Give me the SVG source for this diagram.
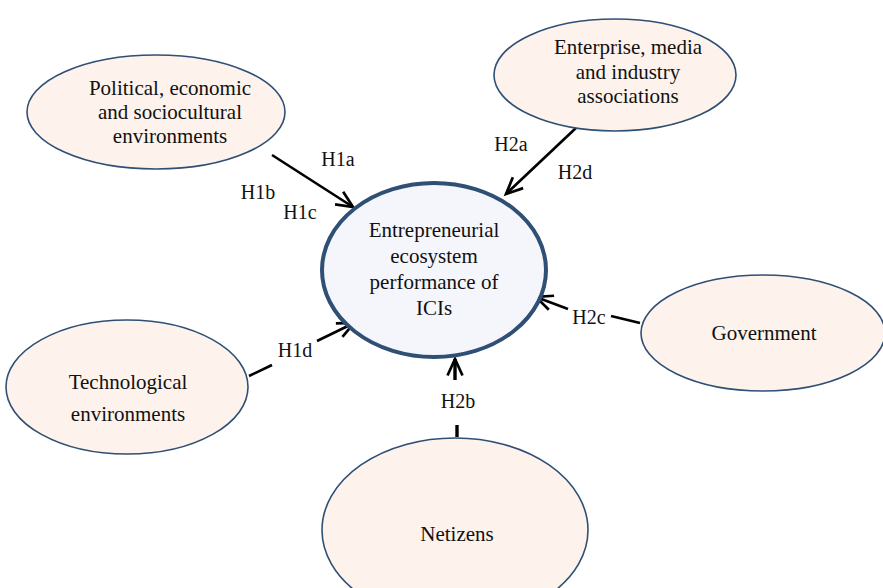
<svg xmlns="http://www.w3.org/2000/svg" width="883" height="588" viewBox="0 0 883 588">
<defs>
<style>
.n{fill:#fdf3ec;stroke:#2f4f74;stroke-width:1.6}
.c{fill:#f5f6fb;stroke:#2f4f74;stroke-width:4}
text{font-family:"Liberation Serif","Times New Roman",serif;font-size:21px;fill:#111;text-anchor:middle}
.l{font-size:20px}
.e{stroke:#000;stroke-width:2.6;fill:none}
</style>
<marker id="ah" viewBox="0 0 12 12" refX="11" refY="6" markerWidth="18" markerHeight="18" markerUnits="userSpaceOnUse" orient="auto" style="overflow:visible">
<path d="M0,1 L11,6 L0,11" fill="none" stroke="#000" stroke-width="1.8"/>
</marker>
</defs>
<rect width="883" height="588" fill="#fff"/>
<g id="connectors">
<line class="e" x1="272" y1="155" x2="353" y2="207" marker-end="url(#ah)"/>
<line class="e" x1="577" y1="127" x2="506" y2="194" marker-end="url(#ah)"/>
<line class="e" x1="640" y1="323" x2="611" y2="316"/>
<line class="e" x1="568" y1="309" x2="536" y2="297" marker-end="url(#ah)"/>
<line class="e" x1="249" y1="376" x2="272" y2="365"/>
<line class="e" x1="317" y1="341" x2="354" y2="323" marker-end="url(#ah)"/>
<line class="e" x1="457" y1="425" x2="457" y2="437" style="stroke-width:3.4"/>
<line class="e" x1="455" y1="380" x2="455" y2="359" marker-end="url(#ah)" style="stroke-width:3.4"/>
<text class="l" x="338" y="166">H1a</text>
<text class="l" x="258" y="199">H1b</text>
<text class="l" x="300" y="219">H1c</text>
<text class="l" x="511" y="151">H2a</text>
<text class="l" x="575" y="179">H2d</text>
<text class="l" x="589" y="324">H2c</text>
<text class="l" x="295" y="357">H1d</text>
<text class="l" x="458" y="408">H2b</text>
</g>
<g id="center">
<ellipse class="c" cx="434" cy="270" rx="112" ry="87"/>
<text x="434" y="237">Entrepreneurial</text>
<text x="434" y="263">ecosystem</text>
<text x="434" y="289">performance of</text>
<text x="434" y="315">ICIs</text>
</g>
<g id="political">
<ellipse class="n" cx="156" cy="112" rx="129" ry="57"/>
<text x="170" y="95">Political, economic</text>
<text x="170" y="119">and sociocultural</text>
<text x="170" y="143">environments</text>
</g>
<g id="enterprise">
<ellipse class="n" cx="615" cy="75" rx="121" ry="56"/>
<text x="628" y="54">Enterprise, media</text>
<text x="628" y="79">and industry</text>
<text x="628" y="103">associations</text>
</g>
<g id="government">
<ellipse class="n" cx="763" cy="333" rx="122" ry="58"/>
<text x="764" y="340">Government</text>
</g>
<g id="technological">
<ellipse class="n" cx="127" cy="387" rx="121" ry="67"/>
<text x="128" y="389">Technological</text>
<text x="128" y="421">environments</text>
</g>
<g id="netizens">
<ellipse class="n" cx="455" cy="530" rx="133" ry="92"/>
<text x="457" y="541">Netizens</text>
</g>
</svg>
